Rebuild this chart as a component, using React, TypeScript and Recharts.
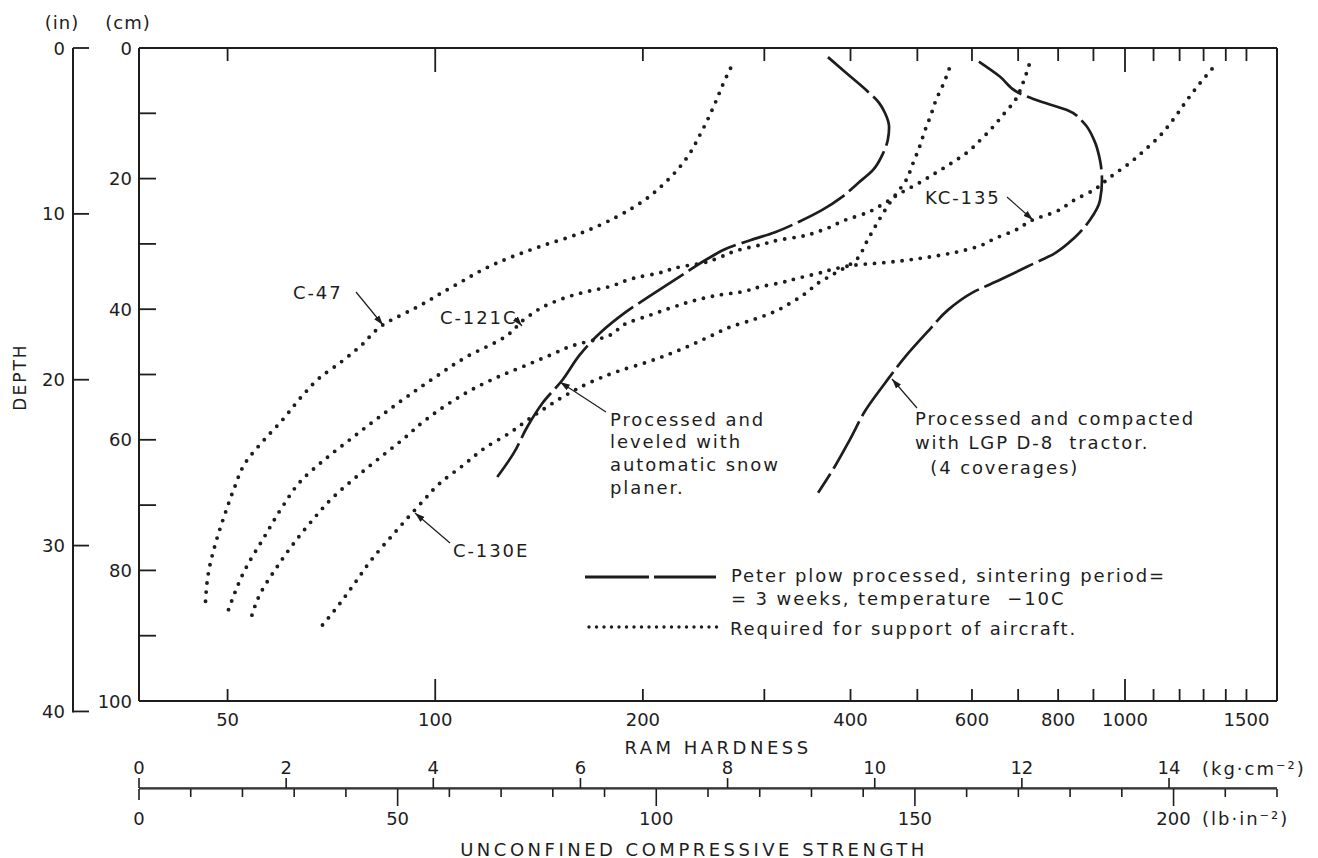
import React from 'react';
import { LineChart, Line, XAxis, YAxis } from 'recharts';

const W = 1318;
const H = 858;
const INK = '#1d1d1d';
const FONT = '"DejaVu Sans", Verdana, sans-serif';

const MARGIN = { top: 47, right: 40, bottom: 19, left: 13 };
const PLOT_LEFT = 139;
const PLOT_RIGHT = 1277;
const PLOT_TOP = 48;

// axis ticks
const RAM_TICKS = [50, 100, 200, 300, 400, 500, 600, 700, 800, 900, 1000, 1100, 1200, 1300, 1400, 1500];
const RAM_LABELS = [50, 100, 200, 400, 600, 800, 1000, 1500];
const RAM_LONG = [100, 1000];
const CM_TICKS = [0, 10, 20, 30, 40, 50, 60, 70, 80, 90, 100];
const CM_LABELS = [0, 20, 40, 60, 80, 100];
const IN_TICKS = [0, 10, 20, 30, 40];
const KG_TICKS = [0, 2, 4, 6, 8, 10, 12, 14];
const LB_TICKS = [0, 10, 20, 30, 40, 50, 60, 70, 80, 90, 100, 110, 120, 130, 140, 150, 160, 170, 180, 190, 200, 210, 220];
const LB_LABELS = [0, 50, 100, 150, 200];
const LB_MAJOR = [50, 100, 150, 200];

const RAM_DOMAIN = [37.2, 1661];
const LB_MAX = 220;
const LB_PER_KG = 14.2233;
const CM_PER_IN = 2.54;

// required for support of aircraft (dotted)
const C47_HARDNESS = [268, 263, 252, 242, 232, 216, 201, 183, 163, 141, 123, 107, 94, 84, 78, 73, 68, 64, 60, 56.5, 53, 51, 49.4, 48.2, 46.9, 46.4];
const C47_DEPTH = [3.1, 4.9, 9.5, 13.3, 16.7, 20.5, 23.3, 25.9, 28.3, 30.5, 32.9, 36.3, 39.7, 42.4, 45.6, 48.1, 50.5, 53.4, 57.0, 60.0, 63.6, 67.7, 71.8, 75.3, 80.4, 85.6];

const C121C_HARDNESS = [726, 711, 693, 665, 641, 617, 592, 561, 532, 506, 473, 449, 421, 394, 364, 337, 315, 295, 276, 259, 245, 227, 210, 195, 178, 163, 147, 136, 126, 111, 100, 91, 83, 76, 69, 64, 60, 56.5, 53, 50];
const C121C_DEPTH = [2.6, 5.4, 8.0, 10.3, 12.3, 14.1, 15.9, 17.6, 19.1, 20.5, 22.2, 23.7, 25.3, 26.3, 27.9, 28.9, 29.4, 30.2, 30.9, 32.0, 32.9, 33.5, 34.5, 35.2, 36.6, 37.5, 39.1, 41.2, 44.3, 47.3, 50.4, 53.4, 56.5, 59.6, 63.1, 66.2, 70.3, 74.9, 79.9, 86.4];

const KC135_HARDNESS = [1337, 1271, 1222, 1174, 1120, 1069, 1016, 951, 902, 844, 792, 736, 693, 650, 608, 561, 506, 455, 410, 384, 359, 337, 315, 295, 276, 259, 239, 221, 205, 190, 176, 159, 147, 136, 125, 114, 105.5, 96.7, 89.6, 83, 76.8, 71.1, 65.9, 61.8, 58.6, 55.8, 53.8];
const KC135_DEPTH = [3.2, 6.0, 8.4, 11.0, 13.6, 15.6, 17.6, 19.8, 21.7, 23.3, 25.1, 26.3, 27.9, 29.1, 30.5, 31.4, 32.2, 32.8, 33.2, 33.7, 34.5, 35.2, 36.0, 36.6, 37.4, 37.8, 38.6, 39.7, 40.9, 42.1, 44.3, 45.5, 47.0, 48.5, 50.1, 52.1, 54.2, 57.0, 60.0, 62.8, 65.7, 68.8, 72.7, 76.4, 79.9, 83.5, 88.1];

const C130E_HARDNESS = [556, 547, 532, 523, 513, 503, 493, 480, 467, 449, 434, 421, 407, 374, 359, 345, 328, 307, 287, 268, 252, 230, 203, 183, 167, 155, 145, 136, 128, 118.6, 109.8, 101.7, 95.4, 87.2, 80.8, 75.8, 72.1, 68.1];
const C130E_DEPTH = [3.2, 5.2, 8.0, 10.3, 12.6, 15.3, 17.6, 20.5, 22.2, 24.8, 27.4, 29.9, 32.5, 34.9, 36.0, 37.5, 39.0, 40.6, 41.7, 42.7, 44.0, 45.9, 48.1, 49.6, 51.3, 53.1, 55.0, 57.0, 59.0, 61.1, 63.9, 66.6, 69.7, 74.3, 78.4, 82.5, 85.6, 88.8];

// Peter plow processed (dashed)
const LEVELED_HARDNESS = [371, 394, 421, 440, 449, 455, 453, 446, 431, 410, 389, 364, 337, 311, 287, 266, 249, 230, 208, 188, 173.5, 162, 153, 143, 136, 130, 123];
const LEVELED_DEPTH = [1.4, 3.8, 6.4, 8.4, 10.0, 12.1, 14.1, 16.1, 18.7, 20.7, 22.8, 24.8, 26.6, 28.2, 29.4, 30.6, 32.2, 34.5, 37.5, 40.6, 43.6, 47.0, 50.8, 54.4, 58.0, 62.0, 65.7];

const COMPACTED_HARDNESS = [614, 659, 702, 760, 824, 872, 902, 920, 926, 920, 890, 844, 792, 721, 659, 600, 554, 520, 480, 449, 421, 399, 379, 359];
const COMPACTED_DEPTH = [2.1, 4.4, 6.9, 8.3, 9.5, 11.5, 14.1, 17.2, 20.2, 23.3, 26.3, 29.1, 31.4, 33.5, 35.5, 37.5, 40.1, 43.2, 47.3, 51.3, 55.4, 60.0, 64.2, 68.1];

const pair = (ram: number[], depth: number[]) => ram.map((r, i) => ({ ram: r, depth: depth[i] }));

const SERIES = [
  { name: 'C-47', data: pair(C47_HARDNESS, C47_DEPTH), dotted: true },
  { name: 'C-121C', data: pair(C121C_HARDNESS, C121C_DEPTH), dotted: true },
  { name: 'KC-135', data: pair(KC135_HARDNESS, KC135_DEPTH), dotted: true },
  { name: 'C-130E', data: pair(C130E_HARDNESS, C130E_DEPTH), dotted: true },
  { name: 'leveled', data: pair(LEVELED_HARDNESS, LEVELED_DEPTH), dotted: false },
  { name: 'compacted', data: pair(COMPACTED_HARDNESS, COMPACTED_DEPTH), dotted: false },
];

const DOTS = '0 9.2';
const DASHES = '54 6';

const txt = { fontFamily: FONT, fontSize: 18, fill: INK };
const AXIS_LINE = { stroke: INK, strokeWidth: 2 };

// same log mapping as the hardness axes, used for the top-edge tick marks of the frame
const ramX = (v: number) => {
  const lo = Math.log(RAM_DOMAIN[0]);
  const hi = Math.log(RAM_DOMAIN[1]);
  return PLOT_LEFT + ((Math.log(v) - lo) / (hi - lo)) * (PLOT_RIGHT - PLOT_LEFT);
};

const RamTick = (props: any) => {
  const { x, y, payload } = props;
  const v = payload.value;
  const len = RAM_LONG.includes(v) ? 22 : 12;
  return (
    <g>
      <line x1={x} x2={x} y1={y} y2={y - len} stroke={INK} strokeWidth={1.8} />
      {RAM_LABELS.includes(v) && (
        <text x={x} y={y + 18} textAnchor="middle" dominantBaseline="central" {...txt}>{v}</text>
      )}
    </g>
  );
};

const CmTick = (props: any) => {
  const { x, y, payload } = props;
  const v = payload.value;
  return (
    <g>
      {v > 0 && v < 100 && <line x1={x} x2={x + 17} y1={y} y2={y} stroke={INK} strokeWidth={1.8} />}
      {CM_LABELS.includes(v) && (
        <text x={x - 7} y={y} textAnchor="end" dominantBaseline="central" {...txt}>{v}</text>
      )}
    </g>
  );
};

const RightTick = (props: any) => {
  const { x, y, payload } = props;
  const v = payload.value;
  if (v <= 0 || v >= 100) return <g />;
  return <line x1={x} x2={x - 18} y1={y} y2={y} stroke={INK} strokeWidth={1.8} />;
};

const InTick = (props: any) => {
  const { x, y, payload } = props;
  const v = payload.value;
  return (
    <g>
      <line x1={x} x2={x + 16} y1={y} y2={y} stroke={INK} strokeWidth={1.8} />
      {v === 40 && <line x1={x} x2={x} y1={y + 1} y2={y - 14} stroke={INK} strokeWidth={2} />}
      <text x={x - 8} y={y} textAnchor="end" dominantBaseline="central" {...txt}>{v}</text>
    </g>
  );
};

const KgTick = (props: any) => {
  const { x, y, payload } = props;
  return (
    <g>
      <line x1={x} x2={x} y1={y} y2={y - 10} stroke={INK} strokeWidth={1.6} />
      <text x={x} y={y - 21} textAnchor="middle" dominantBaseline="central" {...txt}>{payload.value}</text>
    </g>
  );
};

const LbTick = (props: any) => {
  const { x, y, payload } = props;
  const v = payload.value;
  const len = LB_MAJOR.includes(v) ? 17 : v === 0 ? 11 : 8;
  return (
    <g>
      <line x1={x} x2={x} y1={y} y2={y + len} stroke={INK} strokeWidth={1.6} />
      {LB_LABELS.includes(v) && (
        <text x={x} y={y + 29} textAnchor="middle" dominantBaseline="central" {...txt}>{v}</text>
      )}
    </g>
  );
};

const NOTES = [
  { lines: ['C-47'], x: 293, y: 292, dy: 0 },
  { lines: ['C-121C'], x: 440, y: 317, dy: 0 },
  { lines: ['C-130E'], x: 453, y: 550, dy: 0 },
  { lines: ['KC-135'], x: 925, y: 197, dy: 0 },
  { lines: ['Processed and', 'leveled with', 'automatic snow', 'planer.'], x: 610, y: 419, dy: 22.7 },
  { lines: ['Processed and compacted', 'with LGP D-8  tractor.', '  (4 coverages)'], x: 915, y: 418, dy: 24.5 },
];

const ARROWS = [
  [356, 292, 383, 325],
  [515, 318, 522, 326],
  [450, 543, 415, 513],
  [1007, 197, 1033, 220],
  [606, 412, 560, 382],
  [917, 408, 892, 379],
];

const noteStyle = { ...txt, letterSpacing: 1.9, whiteSpace: 'pre' as const };

export default function App() {
  return (
    <div style={{ position: 'absolute', left: 0, top: 0, width: W, height: H, background: '#fff' }}>
      <LineChart width={W} height={H} margin={MARGIN}>
        <XAxis
          xAxisId="b1ram"
          dataKey="ram"
          type="number"
          scale="log"
          domain={RAM_DOMAIN}
          allowDataOverflow
          ticks={RAM_TICKS}
          interval={0}
          height={87}
          tickSize={0}
          tickMargin={0}
          tickLine={false}
          axisLine={AXIS_LINE}
          tick={(p: any) => <RamTick {...p} />}
        />
        <XAxis
          xAxisId="b2kg"
          dataKey="kg"
          type="number"
          domain={[0, LB_MAX / LB_PER_KG]}
          allowDataOverflow
          ticks={KG_TICKS}
          interval={0}
          height={1}
          tickSize={0}
          tickMargin={0}
          tickLine={false}
          axisLine={{ stroke: INK, strokeWidth: 1.6 }}
          tick={(p: any) => <KgTick {...p} />}
        />
        <XAxis
          xAxisId="b3lb"
          dataKey="lb"
          type="number"
          domain={[0, LB_MAX]}
          allowDataOverflow
          ticks={LB_TICKS}
          interval={0}
          height={50}
          tickSize={0}
          tickMargin={0}
          tickLine={false}
          axisLine={{ stroke: INK, strokeWidth: 1.2 }}
          tick={(p: any) => <LbTick {...p} />}
        />
        <XAxis
          xAxisId="t1ram"
          dataKey="ram"
          orientation="top"
          type="number"
          scale="log"
          domain={RAM_DOMAIN}
          allowDataOverflow
          height={1}
          tick={false}
          tickLine={false}
          axisLine={AXIS_LINE}
        />
        <YAxis
          yAxisId="l1cm"
          type="number"
          domain={[0, 100]}
          reversed
          ticks={CM_TICKS}
          interval={0}
          width={66}
          tickSize={0}
          tickMargin={0}
          tickLine={false}
          axisLine={AXIS_LINE}
          tick={(p: any) => <CmTick {...p} />}
        />
        <YAxis
          yAxisId="l2in"
          type="number"
          domain={[0, 100 / CM_PER_IN]}
          reversed
          allowDataOverflow
          ticks={IN_TICKS}
          interval={0}
          width={60}
          tickSize={0}
          tickMargin={0}
          tickLine={false}
          axisLine={AXIS_LINE}
          tick={(p: any) => <InTick {...p} />}
        />
        <YAxis
          yAxisId="r1cm"
          orientation="right"
          type="number"
          domain={[0, 100]}
          reversed
          ticks={CM_TICKS}
          interval={0}
          width={1}
          tickSize={0}
          tickMargin={0}
          tickLine={false}
          axisLine={AXIS_LINE}
          tick={(p: any) => <RightTick {...p} />}
        />
        {SERIES.map((s) => (
          <Line
            key={s.name}
            name={s.name}
            xAxisId="t1ram"
            yAxisId="l1cm"
            data={s.data}
            dataKey="depth"
            type="monotoneY"
            stroke={INK}
            strokeWidth={s.dotted ? 3.9 : 2.7}
            strokeDasharray={s.dotted ? DOTS : DASHES}
            strokeLinecap={s.dotted ? 'round' : 'butt'}
            dot={false}
            activeDot={false}
            isAnimationActive={false}
          />
        ))}
      </LineChart>

      <svg width={W} height={H} style={{ position: 'absolute', left: 0, top: 0, pointerEvents: 'none' }}>
        <defs>
          <marker id="ah" viewBox="0 0 10 10" refX="10" refY="5" markerWidth="10" markerHeight="10" markerUnits="userSpaceOnUse" orient="auto">
            <path d="M0,1.8 L10,5 L0,8.2 z" fill={INK} />
          </marker>
        </defs>

        {RAM_TICKS.map((v) => {
          const x = ramX(v);
          const len = RAM_LONG.includes(v) ? 24 : 13;
          return <line key={`t${v}`} x1={x} x2={x} y1={PLOT_TOP} y2={PLOT_TOP + len} stroke={INK} strokeWidth={1.8} />;
        })}

        <text x={62} y={22} textAnchor="middle" dominantBaseline="central" {...txt} letterSpacing={1}>(in)</text>
        <text x={128} y={22} textAnchor="middle" dominantBaseline="central" {...txt} letterSpacing={1}>(cm)</text>
        <text x={20} y={377} textAnchor="middle" dominantBaseline="central" transform="rotate(-90 20 377)" {...txt} fontSize={17} letterSpacing={2}>DEPTH</text>

        <text x={718} y={747} textAnchor="middle" dominantBaseline="central" {...txt} letterSpacing={3.5}>RAM HARDNESS</text>
        <text x={1202} y={768} dominantBaseline="central" {...txt} letterSpacing={2}>(kg·cm⁻²)</text>
        <text x={1202} y={818} dominantBaseline="central" {...txt} letterSpacing={2}>(lb·in⁻²)</text>
        <text x={694} y={849} textAnchor="middle" dominantBaseline="central" {...txt} letterSpacing={3.5}>UNCONFINED COMPRESSIVE STRENGTH</text>

        {NOTES.map((n, i) =>
          n.lines.map((l, j) => (
            <text key={`${i}-${j}`} x={n.x} y={n.y + j * n.dy} dominantBaseline="central" style={noteStyle}>{l}</text>
          ))
        )}
        {ARROWS.map((a, i) => (
          <line key={i} x1={a[0]} y1={a[1]} x2={a[2]} y2={a[3]} stroke={INK} strokeWidth={1.2} markerEnd="url(#ah)" />
        ))}

        <line x1={585} x2={716} y1={577} y2={577} stroke={INK} strokeWidth={2.8} strokeDasharray="64 5" />
        <text x={731} y={575} dominantBaseline="central" style={noteStyle}>Peter plow processed, sintering period=</text>
        <text x={731} y={598} dominantBaseline="central" style={noteStyle}>= 3 weeks, temperature  −10C</text>
        <line x1={589} x2={724} y1={627} y2={627} stroke={INK} strokeWidth={3.4} strokeDasharray="0 7.5" strokeLinecap="round" />
        <text x={730} y={628} dominantBaseline="central" style={noteStyle}>Required for support of aircraft.</text>
      </svg>
    </div>
  );
}
